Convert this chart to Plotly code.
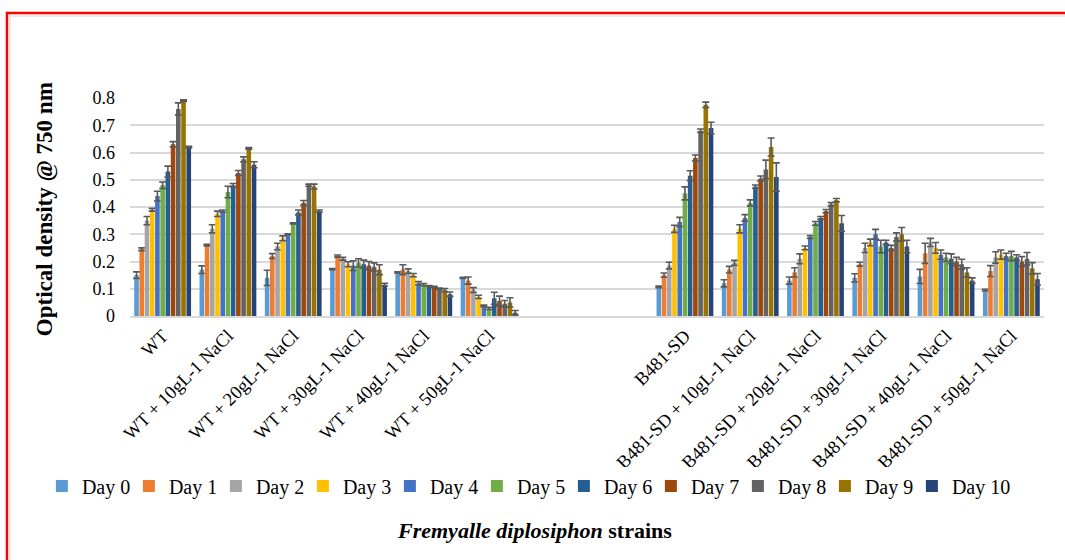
import plotly.graph_objects as go

# Strain / treatment categories (two blank slots separate WT from B481-SD)
categories = [
    "WT", "WT + 10gL-1 NaCl", "WT + 20gL-1 NaCl", "WT + 30gL-1 NaCl",
    "WT + 40gL-1 NaCl", "WT + 50gL-1 NaCl", " ", "  ",
    "B481-SD", "B481-SD + 10gL-1 NaCl", "B481-SD + 20gL-1 NaCl",
    "B481-SD + 30gL-1 NaCl", "B481-SD + 40gL-1 NaCl", "B481-SD + 50gL-1 NaCl",
]
days = [f"Day {d}" for d in range(11)]

# Mean OD750 per strain, Day 0 .. Day 10
wt = [0.15, 0.245, 0.35, 0.39, 0.44, 0.48, 0.53, 0.63, 0.76, 0.79, 0.62]
wt_10 = [0.17, 0.26, 0.32, 0.375, 0.385, 0.455, 0.48, 0.525, 0.575, 0.615, 0.555]
wt_20 = [0.14, 0.22, 0.255, 0.285, 0.30, 0.34, 0.38, 0.415, 0.48, 0.475, 0.385]
wt_30 = [0.172, 0.22, 0.21, 0.19, 0.185, 0.195, 0.19, 0.185, 0.18, 0.17, 0.115]
wt_40 = [0.16, 0.17, 0.165, 0.15, 0.12, 0.115, 0.11, 0.107, 0.10, 0.095, 0.08]
wt_50 = [0.14, 0.13, 0.095, 0.07, 0.037, 0.028, 0.065, 0.055, 0.045, 0.05, 0.012]
sd = [0.107, 0.15, 0.185, 0.32, 0.345, 0.45, 0.515, 0.58, 0.68, 0.775, 0.69]
sd_10 = [0.12, 0.17, 0.195, 0.32, 0.36, 0.415, 0.475, 0.505, 0.538, 0.62, 0.51]
sd_20 = [0.13, 0.16, 0.21, 0.25, 0.29, 0.34, 0.36, 0.385, 0.41, 0.425, 0.34]
sd_30 = [0.14, 0.19, 0.25, 0.27, 0.30, 0.255, 0.27, 0.25, 0.29, 0.30, 0.255]
sd_40 = [0.145, 0.23, 0.27, 0.25, 0.225, 0.215, 0.21, 0.20, 0.19, 0.16, 0.13]
sd_50 = [0.095, 0.165, 0.215, 0.225, 0.22, 0.22, 0.215, 0.20, 0.21, 0.175, 0.135]

# Standard deviations, same layout
wt_e = [0.012, 0.005, 0.015, 0.005, 0.018, 0.012, 0.02, 0.01, 0.022, 0.003, 0.003]
wt_10_e = [0.014, 0.003, 0.015, 0.01, 0.004, 0.021, 0.006, 0.009, 0.009, 0.003, 0.011]
wt_20_e = [0.028, 0.009, 0.012, 0.009, 0.002, 0.002, 0.009, 0.009, 0.004, 0.009, 0.004]
wt_30_e = [0.002, 0.004, 0.005, 0.009, 0.018, 0.015, 0.015, 0.015, 0.015, 0.018, 0.005]
wt_40_e = [0.002, 0.018, 0.008, 0.006, 0.006, 0.004, 0.002, 0.002, 0.003, 0.006, 0.008]
wt_50_e = [0.002, 0.013, 0.009, 0.006, 0.003, 0.004, 0.022, 0.018, 0.012, 0.017, 0.008]
sd_e = [0.003, 0.008, 0.012, 0.013, 0.017, 0.024, 0.018, 0.011, 0.006, 0.01, 0.021]
sd_10_e = [0.013, 0.012, 0.009, 0.015, 0.012, 0.011, 0.006, 0.009, 0.034, 0.033, 0.052]
sd_20_e = [0.013, 0.017, 0.018, 0.007, 0.005, 0.007, 0.005, 0.006, 0.006, 0.006, 0.029]
sd_30_e = [0.015, 0.007, 0.017, 0.012, 0.018, 0.023, 0.008, 0.009, 0.015, 0.025, 0.023]
sd_40_e = [0.026, 0.037, 0.015, 0.02, 0.017, 0.015, 0.018, 0.015, 0.018, 0.017, 0.01]
sd_50_e = [0.003, 0.02, 0.021, 0.017, 0.01, 0.017, 0.01, 0.018, 0.023, 0.021, 0.021]

blank = [None] * 11
strain_means = [wt, wt_10, wt_20, wt_30, wt_40, wt_50, blank, blank,
                sd, sd_10, sd_20, sd_30, sd_40, sd_50]
strain_errs = [wt_e, wt_10_e, wt_20_e, wt_30_e, wt_40_e, wt_50_e, blank, blank,
               sd_e, sd_10_e, sd_20_e, sd_30_e, sd_40_e, sd_50_e]

colors = ["#5B9BD5", "#ED7D31", "#A5A5A5", "#FFC000", "#4472C4", "#70AD47",
          "#255E91", "#9E480E", "#636363", "#997300", "#264478"]

SERIF = "Liberation Serif, Times New Roman, serif"

fig = go.Figure()
for i, day in enumerate(days):
    fig.add_trace(go.Bar(
        name=day,
        x=categories,
        y=[row[i] for row in strain_means],
        error_y=dict(type="data", array=[row[i] for row in strain_errs],
                     color="#595959", thickness=1.6, width=3.5, visible=True),
        marker=dict(color=colors[i], line=dict(width=0)),
        cliponaxis=False,
        # the last entry is wider ("Day 10"), give it room in the legend row
        legendwidth=62 if i == len(days) - 1 else None,
    ))

fig.update_layout(
    width=1065, height=560,
    barmode="group", bargap=0.12, bargroupgap=0.12,
    plot_bgcolor="white", paper_bgcolor="white",
    font=dict(family=SERIF, size=16, color="#000000"),
    margin=dict(l=130, r=21, t=98, b=244, autoexpand=False),
    showlegend=True,
    legend=dict(orientation="h", xref="paper", yref="paper",
                x=-0.0964, xanchor="left", y=-0.78, yanchor="middle",
                font=dict(family=SERIF, size=20), itemwidth=30,
                entrywidth=42, entrywidthmode="pixels",
                tracegroupgap=0, traceorder="normal"),
    xaxis=dict(type="category", categoryorder="array", categoryarray=categories,
               tickangle=-45, tickfont=dict(family=SERIF, size=18.5),
               showline=True, linecolor="#D9D9D9", linewidth=1.5,
               showgrid=False, ticks="", automargin=False),
    yaxis=dict(range=[0, 0.8], dtick=0.1, tickformat=".1~f",
               showgrid=True, gridcolor="#D9D9D9", gridwidth=1.5,
               zeroline=False, tickfont=dict(family=SERIF, size=18),
               ticks="", ticklabelstandoff=14, automargin=False),
)

fig.add_annotation(
    text="<b>Optical density @ 750 nm</b>", textangle=-90,
    xref="paper", yref="paper", x=-0.093, y=0.49, xanchor="center", yanchor="middle",
    showarrow=False, font=dict(family=SERIF, size=23),
)
fig.add_annotation(
    text="<b><i>Fremyalle diplosiphon</i> strains</b>",
    xref="paper", yref="paper", x=0.443, y=-0.982, xanchor="center", yanchor="middle",
    showarrow=False, font=dict(family=SERIF, size=22),
)

# frame around the whole figure
fig.add_shape(type="rect", xref="paper", yref="paper",
              x0=-0.1346, x1=1.05, y0=-1.2, y1=1.39,
              line=dict(color="#FF0000", width=2.5), fillcolor="rgba(0,0,0,0)")
fig.add_shape(type="rect", xref="paper", yref="paper",
              x0=-0.1313, x1=1.05, y0=-1.2, y1=1.376,
              line=dict(color="#D4D4D4", width=1), fillcolor="rgba(0,0,0,0)")

fig.write_html("out.html")
